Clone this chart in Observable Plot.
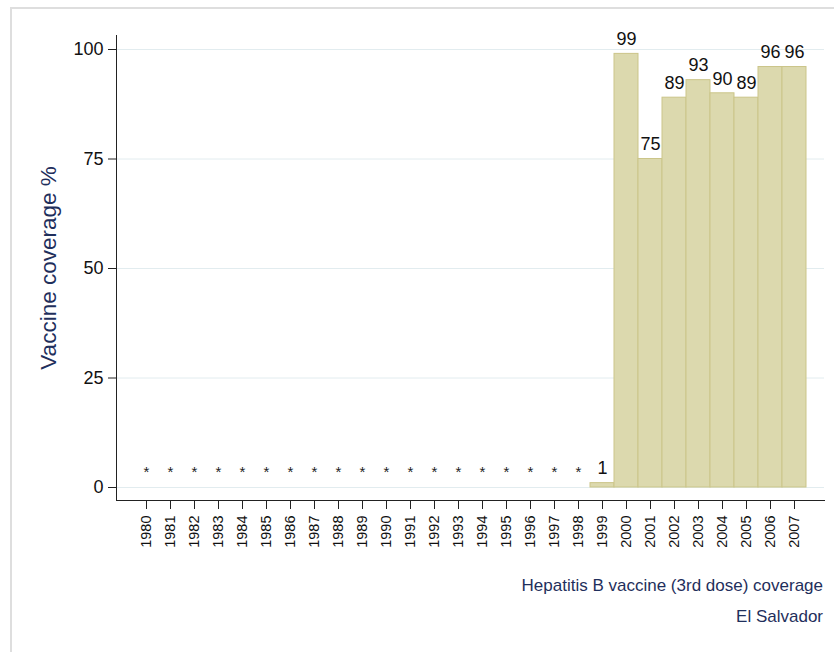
<!DOCTYPE html>
<html>
<head>
<meta charset="utf-8">
<script src="https://cdn.jsdelivr.net/npm/d3@7"></script>
<script src="https://cdn.jsdelivr.net/npm/@observablehq/plot@0.6"></script>
<style>
  html, body { margin: 0; padding: 0; background: #fff; }
  body { width: 838px; height: 652px; position: relative; overflow: hidden; font-family: "Liberation Sans", Arial, sans-serif; }
  .edge { position: absolute; background: #dedede; }
  #chart { position: absolute; left: 0; top: 0; width: 838px; height: 600px; }
  .cap { position: absolute; right: 15px; color: #1f2f5c; font-size: 17px; white-space: nowrap; }
</style>
</head>
<body>
<div class="edge" style="left:10px; top:7px; width:824px; height:2px"></div>
<div class="edge" style="left:10px; top:7px; width:2px; height:645px"></div>
<div id="chart"></div>
<div class="cap" style="top:576px">Hepatitis B vaccine (3rd dose) coverage</div>
<div class="cap" style="top:607px">El Salvador</div>
<script>
const years = [1980, 1981, 1982, 1983, 1984, 1985, 1986, 1987, 1988, 1989,
               1990, 1991, 1992, 1993, 1994, 1995, 1996, 1997, 1998, 1999,
               2000, 2001, 2002, 2003, 2004, 2005, 2006, 2007];
const coverage = [null, null, null, null, null, null, null, null, null, null,
                  null, null, null, null, null, null, null, null, null, 1,
                  99, 75, 89, 93, 90, 89, 96, 96];
const yTicks = [0, 25, 50, 75, 100];
const yTitle = "Vaccine coverage %";
const missingMark = "*";

const rows = years.map((year, i) => ({
  year: String(year),
  value: coverage[i],
  label: coverage[i] == null ? missingMark : String(coverage[i])
}));

const navy = "#1f2f5c";
const chart = Plot.plot({
  width: 838,
  height: 600,
  marginLeft: 116,
  marginRight: 14,
  marginTop: 35,
  marginBottom: 100,
  style: { fontFamily: "'Liberation Sans', Arial, sans-serif", background: "transparent", color: "#000" },
  x: { type: "band", domain: rows.map(d => d.year), padding: 0, insetLeft: 14, insetRight: 13.5 },
  y: { domain: [0, 100], insetTop: 14, insetBottom: 13 },
  marks: [
    Plot.gridY(yTicks, { stroke: "#e2ecef", strokeOpacity: 1, strokeWidth: 1 }),
    Plot.barY(rows.filter(d => d.value != null), {
      x: "year", y: "value", fill: "#dcd9ae", stroke: "#cbc589", strokeWidth: 1
    }),
    Plot.text(rows.filter(d => d.value != null), {
      x: "year", y: "value", text: "label",
      dy: -14.5, fontSize: 18, fill: "#111"
    }),
    Plot.text(rows.filter(d => d.value == null), {
      x: "year", y: () => 0, text: "label",
      dy: -15, fontSize: 15, fill: "#222"
    }),
    Plot.axisY({ ticks: yTicks, tickSize: 8, tickPadding: 5, fontSize: 18, label: null, stroke: "#222", fill: "#111" }),
    Plot.axisX({ tickRotate: -90, tickSize: 9, tickPadding: 6, fontSize: 14.5, label: null, stroke: "#222", fill: "#111" }),
    Plot.frame({ anchor: "left", stroke: "#222" }),
    Plot.frame({ anchor: "bottom", stroke: "#222" }),
    Plot.text([yTitle], {
      text: d => d, frameAnchor: "left", textAnchor: "middle", rotate: -90, dx: -68,
      fontSize: 22.5, fill: navy
    })
  ]
});
document.getElementById("chart").appendChild(chart);
</script>
</body>
</html>
